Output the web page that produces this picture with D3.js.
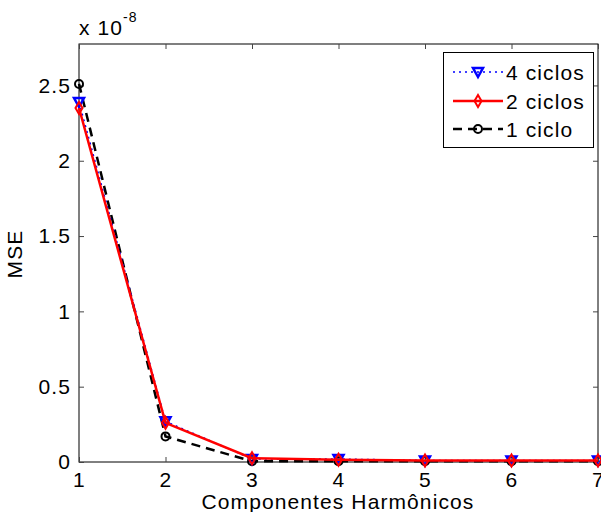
<!doctype html>
<html>
<head>
<meta charset="utf-8">
<script src="https://cdn.jsdelivr.net/npm/d3@7"></script>
<style>
  body { margin: 0; background: #fff; }
  svg text { font-family: Arial, "Liberation Sans", sans-serif; fill: #000; letter-spacing: 1.1px; }
</style>
</head>
<body>
<svg id="chart" width="601" height="512"></svg>
<script>
// values (units of 1e-8)
var harmonics = [1, 2, 3, 4, 5, 6, 7];
var ciclos4 = [2.39, 0.27, 0.02, 0.02, 0.01, 0.01, 0.01];
var ciclos2 = [2.35, 0.26, 0.025, 0.015, 0.01, 0.01, 0.01];
var ciclo1 = [2.51, 0.17, 0.005, 0.005, 0.005, 0.005, 0.005];
var yTicks = [0, 0.5, 1, 1.5, 2, 2.5];
var seriesNames = ["4 ciclos", "2 ciclos", "1 ciclo"];

var svg = d3.select("#chart");
var pLeft = 79, pRight = 598, pTop = 44, pBottom = 462;
var fs = "21px";

var x = d3.scaleLinear().domain([1, 7]).range([pLeft, pRight]);
var y = d3.scaleLinear().domain([0, 2.775]).range([pBottom, pTop]);

// axes box with inward ticks
var g = svg.append("g");
g.append("rect").attr("x", pLeft).attr("y", pTop)
  .attr("width", pRight - pLeft).attr("height", pBottom - pTop)
  .attr("fill", "none").attr("stroke", "#000").attr("stroke-width", 1);

var xAx = g.append("g").attr("transform", "translate(0," + pBottom + ")")
  .call(d3.axisBottom(x).tickValues(harmonics).tickSize(-5).tickPadding(10).tickFormat(d3.format("d")));
var xTop = g.append("g").attr("transform", "translate(0," + pTop + ")")
  .call(d3.axisTop(x).tickValues(harmonics).tickSize(-5).tickFormat(""));
var yAx = g.append("g").attr("transform", "translate(" + pLeft + ",0)")
  .call(d3.axisLeft(y).tickValues(yTicks).tickSize(-5).tickPadding(8).tickFormat(function(d) { return d3.format("")(d); }));
var yRight = g.append("g").attr("transform", "translate(" + pRight + ",0)")
  .call(d3.axisRight(y).tickValues(yTicks).tickSize(-5).tickFormat(""));

[xAx, xTop, yAx, yRight].forEach(function(a) {
  a.select(".domain").remove();
  a.selectAll("line").attr("stroke", "#444");
  a.selectAll("text").style("font-size", fs).attr("fill", "#000");
});
xAx.selectAll("text").attr("dy", "0.71em");

// exponent label
var ex = svg.append("text").attr("x", 79).attr("y", 35).style("font-size", fs);
ex.append("tspan").text("x 10");
ex.append("tspan").attr("dy", -13).style("font-size", "14px").text("-8");

// axis titles
svg.append("text").attr("x", 338).attr("y", 509).attr("text-anchor", "middle")
  .style("font-size", fs).text("Componentes Harmônicos");
svg.append("text").attr("transform", "translate(22,254) rotate(-90)")
  .attr("text-anchor", "middle").style("font-size", fs).text("MSE");

var line = d3.line().x(function(d, i) { return x(harmonics[i]); }).y(function(d) { return y(d); });

var series = [
  { name: seriesNames[0], vals: ciclos4, color: "#0000ff", dash: "2,4", width: 1.5, marker: "tri" },
  { name: seriesNames[1], vals: ciclos2, color: "#ff0000", dash: null, width: 2.5, marker: "dia" },
  { name: seriesNames[2], vals: ciclo1, color: "#000000", dash: "9,6", width: 2.5, marker: "circ" }
];

var plot = svg.append("g");
var drawOrder = [2, 0, 1];

function marker(sel, s, cx, cy) {
  if (s.marker == "tri") {
    sel.append("path").attr("d", "M" + (cx - 5) + "," + (cy - 4) + "L" + (cx + 5) + "," + (cy - 4) + "L" + cx + "," + (cy + 5) + "Z")
      .attr("fill", "none").attr("stroke", s.color).attr("stroke-width", 2.5);
  } else if (s.marker == "dia") {
    sel.append("path").attr("d", "M" + cx + "," + (cy - 6) + "L" + (cx + 3.5) + "," + cy + "L" + cx + "," + (cy + 6) + "L" + (cx - 3.5) + "," + cy + "Z")
      .attr("fill", "none").attr("stroke", s.color).attr("stroke-width", 2);
  } else {
    sel.append("circle").attr("cx", cx).attr("cy", cy).attr("r", 4)
      .attr("fill", "none").attr("stroke", s.color).attr("stroke-width", 2);
  }
}

drawOrder.forEach(function(k) {
  var s = series[k];
  plot.append("path").datum(s.vals).attr("d", line)
    .attr("fill", "none").attr("stroke", s.color).attr("stroke-width", s.width)
    .attr("stroke-dasharray", s.dash);
  s.vals.forEach(function(v, i) { marker(plot, s, x(harmonics[i]), y(v)); });
});

// legend
var lg = svg.append("g");
lg.append("rect").attr("x", 443.5).attr("y", 52.5).attr("width", 150).attr("height", 95)
  .attr("fill", "#fff").attr("stroke", "#000").attr("stroke-width", 1);
var ly = [72, 101, 129];
series.forEach(function(s, i) {
  lg.append("line").attr("x1", 453).attr("x2", 503).attr("y1", ly[i]).attr("y2", ly[i])
    .attr("stroke", s.color).attr("stroke-width", s.width).attr("stroke-dasharray", s.dash);
  marker(lg, s, 478, ly[i]);
  lg.append("text").attr("x", 506).attr("y", ly[i] + 7.5).style("font-size", fs).text(s.name);
});
</script>
</body>
</html>
